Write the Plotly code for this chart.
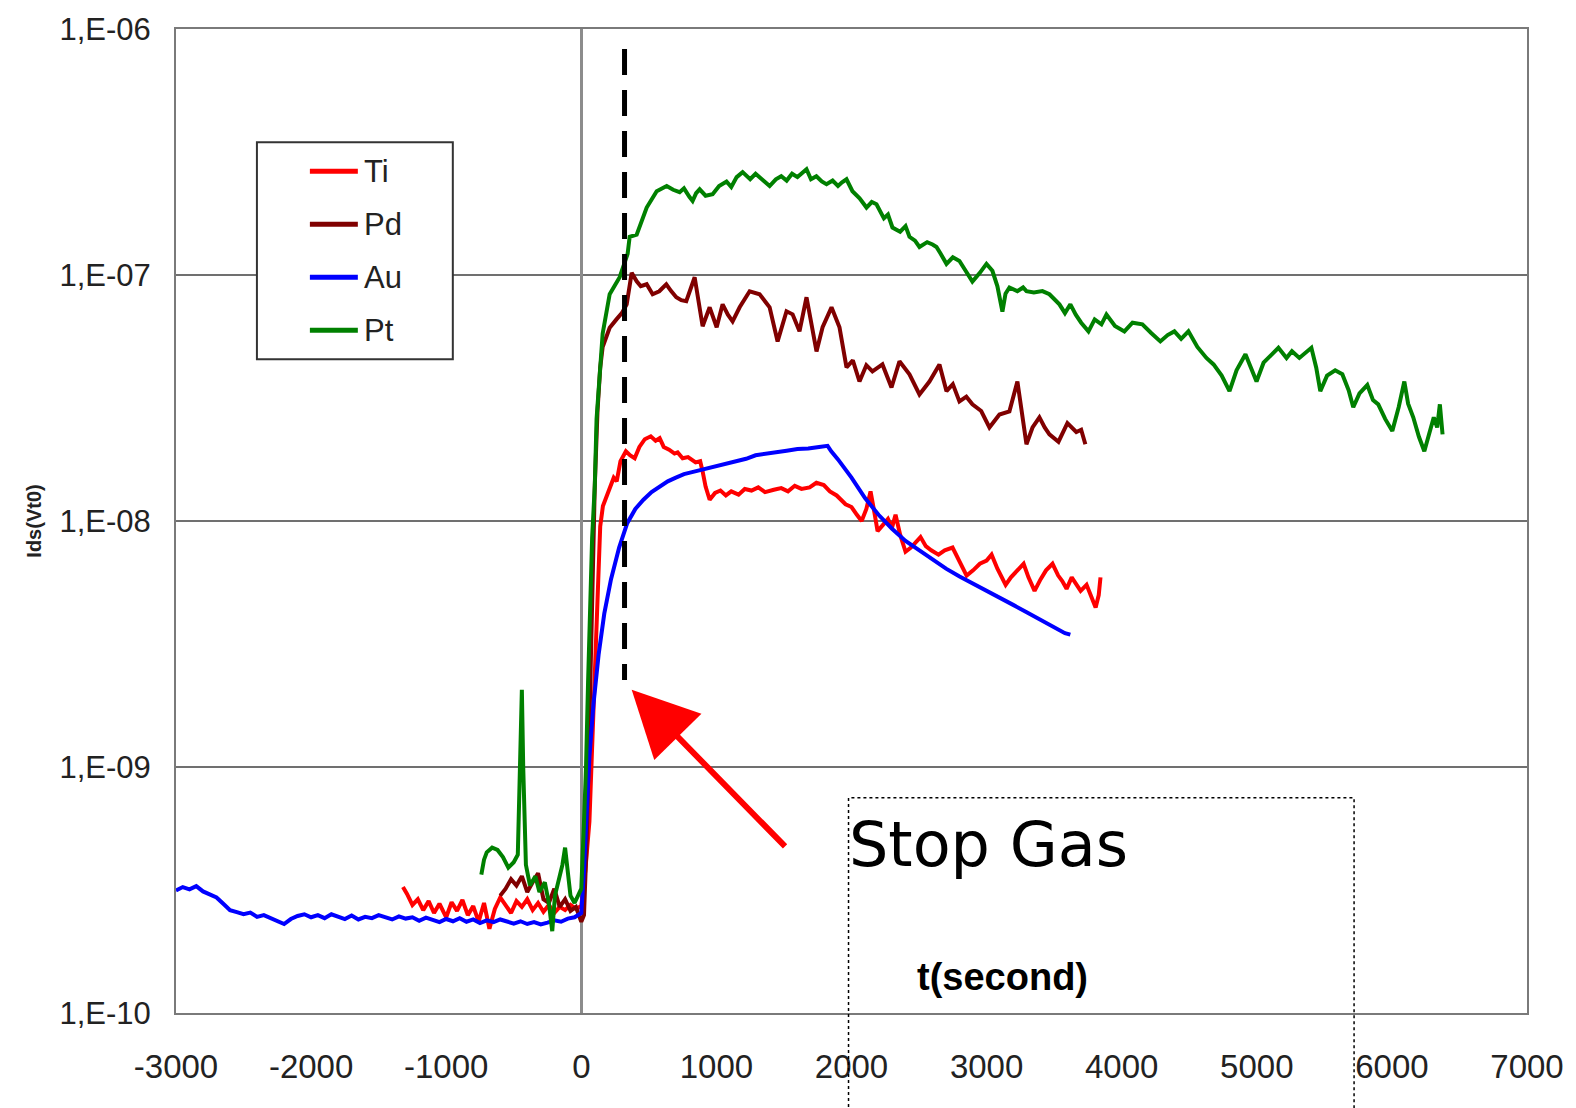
import plotly.graph_objects as go

# ---- measured drain current Ids(Vt0) versus time, one list of (t, Ids) per gate metal ----
ti_points = [
    (-1320, 3.25e-10), (-1290, 3.05e-10), (-1250, 2.75e-10), (-1210, 2.90e-10), (-1170, 2.62e-10),
    (-1130, 2.85e-10), (-1090, 2.55e-10), (-1050, 2.78e-10), (-1000, 2.45e-10), (-960, 2.82e-10),
    (-920, 2.60e-10), (-880, 2.88e-10), (-840, 2.50e-10), (-800, 2.72e-10), (-760, 2.35e-10),
    (-720, 2.80e-10), (-680, 2.20e-10), (-640, 2.65e-10), (-600, 2.95e-10), (-560, 2.75e-10),
    (-520, 2.55e-10), (-480, 2.85e-10), (-440, 2.70e-10), (-400, 2.90e-10), (-360, 2.62e-10),
    (-320, 2.80e-10), (-280, 2.58e-10), (-240, 2.75e-10), (-200, 2.55e-10), (-160, 2.70e-10),
    (-120, 2.62e-10), (-80, 2.75e-10), (-40, 2.65e-10), (0, 2.72e-10), (30, 3.8e-10),
    (60, 6.0e-10), (80, 1.2e-9), (100, 2.5e-9), (120, 5.0e-9), (140, 9.5e-9),
    (160, 1.15e-8), (200, 1.30e-8), (240, 1.50e-8), (262, 1.45e-8), (290, 1.75e-8),
    (330, 1.92e-8), (360, 1.85e-8), (395, 1.80e-8), (430, 2.00e-8), (470, 2.15e-8),
    (514, 2.21e-8), (550, 2.12e-8), (580, 2.17e-8), (610, 2.00e-8), (650, 1.95e-8),
    (690, 1.88e-8), (713, 1.90e-8), (750, 1.80e-8), (790, 1.82e-8), (846, 1.73e-8),
    (880, 1.75e-8), (898, 1.59e-8), (920, 1.38e-8), (950, 1.22e-8), (990, 1.30e-8),
    (1030, 1.33e-8), (1070, 1.27e-8), (1110, 1.32e-8), (1164, 1.28e-8), (1210, 1.35e-8),
    (1260, 1.33e-8), (1310, 1.37e-8), (1360, 1.31e-8), (1425, 1.34e-8), (1480, 1.36e-8),
    (1530, 1.32e-8), (1580, 1.39e-8), (1630, 1.35e-8), (1690, 1.37e-8), (1740, 1.43e-8),
    (1795, 1.40e-8), (1840, 1.32e-8), (1890, 1.27e-8), (1956, 1.17e-8), (2000, 1.14e-8),
    (2040, 1.06e-8), (2075, 1.00e-8), (2110, 1.12e-8), (2141, 1.32e-8), (2170, 1.08e-8),
    (2193, 9.1e-9), (2230, 9.6e-9), (2270, 1.02e-8), (2300, 9.4e-9), (2326, 1.06e-8),
    (2360, 8.8e-9), (2400, 7.5e-9), (2440, 7.8e-9), (2480, 8.2e-9), (2511, 8.6e-9),
    (2550, 7.9e-9), (2590, 7.6e-9), (2644, 7.3e-9), (2690, 7.6e-9), (2748, 7.8e-9),
    (2790, 7.0e-9), (2820, 6.5e-9), (2852, 6.0e-9), (2900, 6.3e-9), (2950, 6.7e-9),
    (3000, 6.9e-9), (3037, 7.3e-9), (3080, 6.4e-9), (3110, 5.9e-9), (3141, 5.5e-9),
    (3180, 5.9e-9), (3220, 6.2e-9), (3274, 6.7e-9), (3310, 5.9e-9), (3355, 5.2e-9),
    (3400, 5.8e-9), (3440, 6.3e-9), (3488, 6.7e-9), (3530, 6.0e-9), (3560, 5.7e-9),
    (3592, 5.3e-9), (3630, 5.9e-9), (3660, 5.6e-9), (3696, 5.2e-9), (3740, 5.5e-9),
    (3770, 5.0e-9), (3807, 4.45e-9), (3830, 5.0e-9), (3843, 5.9e-9),
]

pd_points = [
    (-600, 3.0e-10), (-560, 3.2e-10), (-520, 3.5e-10), (-480, 3.3e-10), (-440, 3.6e-10),
    (-400, 3.1e-10), (-360, 3.4e-10), (-320, 3.7e-10), (-280, 2.9e-10), (-240, 2.8e-10),
    (-200, 3.2e-10), (-160, 2.7e-10), (-120, 2.9e-10), (-80, 2.6e-10), (-40, 2.7e-10),
    (0, 2.35e-10), (20, 2.5e-10), (40, 5.0e-10), (60, 1.5e-9), (80, 5.0e-9),
    (100, 1.4e-8), (120, 2.8e-8), (140, 4.2e-8), (158, 5.1e-8), (210, 6.1e-8),
    (260, 6.6e-8), (300, 7.0e-8), (336, 7.6e-8), (360, 9.2e-8), (373, 1.02e-7),
    (410, 9.43e-8), (440, 9.0e-8), (484, 9.17e-8), (528, 8.35e-8), (577, 8.59e-8),
    (629, 9.17e-8), (665, 8.6e-8), (703, 8.12e-8), (740, 7.9e-8), (777, 7.82e-8),
    (839, 9.79e-8), (861, 8.35e-8), (898, 6.19e-8), (950, 7.39e-8), (1002, 6.13e-8),
    (1046, 7.60e-8), (1085, 6.9e-8), (1120, 6.48e-8), (1172, 7.39e-8), (1246, 8.59e-8),
    (1320, 8.35e-8), (1394, 7.39e-8), (1453, 5.37e-8), (1519, 7.12e-8), (1564, 6.92e-8),
    (1615, 5.90e-8), (1667, 8.12e-8), (1741, 4.89e-8), (1786, 6.13e-8), (1852, 7.39e-8),
    (1911, 6.13e-8), (1963, 4.21e-8), (2010, 4.5e-8), (2059, 3.69e-8), (2110, 4.3e-8),
    (2155, 4.06e-8), (2229, 4.33e-8), (2296, 3.49e-8), (2355, 4.46e-8), (2429, 3.95e-8),
    (2503, 3.27e-8), (2577, 3.69e-8), (2651, 4.33e-8), (2703, 3.37e-8), (2750, 3.6e-8),
    (2799, 3.06e-8), (2850, 3.2e-8), (2895, 2.98e-8), (2960, 2.8e-8), (3021, 2.40e-8),
    (3095, 2.71e-8), (3169, 2.79e-8), (3228, 3.69e-8), (3295, 2.05e-8), (3340, 2.4e-8),
    (3391, 2.64e-8), (3430, 2.4e-8), (3465, 2.25e-8), (3532, 2.1e-8), (3598, 2.5e-8),
    (3664, 2.3e-8), (3700, 2.35e-8), (3731, 2.05e-8),
]

au_points = [
    (-3000, 3.15e-10), (-2950, 3.25e-10), (-2900, 3.18e-10), (-2850, 3.28e-10), (-2800, 3.12e-10),
    (-2750, 3.02e-10), (-2700, 2.95e-10), (-2650, 2.78e-10), (-2600, 2.62e-10), (-2550, 2.57e-10),
    (-2500, 2.52e-10), (-2450, 2.56e-10), (-2400, 2.46e-10), (-2350, 2.50e-10), (-2300, 2.43e-10),
    (-2250, 2.37e-10), (-2200, 2.30e-10), (-2150, 2.41e-10), (-2100, 2.48e-10), (-2050, 2.52e-10),
    (-2000, 2.45e-10), (-1950, 2.50e-10), (-1900, 2.43e-10), (-1850, 2.52e-10), (-1800, 2.47e-10),
    (-1750, 2.41e-10), (-1700, 2.49e-10), (-1650, 2.40e-10), (-1600, 2.46e-10), (-1550, 2.43e-10),
    (-1500, 2.50e-10), (-1450, 2.44e-10), (-1400, 2.40e-10), (-1350, 2.47e-10), (-1300, 2.42e-10),
    (-1250, 2.45e-10), (-1200, 2.37e-10), (-1150, 2.44e-10), (-1100, 2.40e-10), (-1050, 2.34e-10),
    (-1000, 2.41e-10), (-950, 2.36e-10), (-900, 2.43e-10), (-850, 2.35e-10), (-800, 2.40e-10),
    (-750, 2.32e-10), (-700, 2.38e-10), (-650, 2.34e-10), (-600, 2.40e-10), (-550, 2.36e-10),
    (-500, 2.31e-10), (-450, 2.36e-10), (-400, 2.30e-10), (-350, 2.34e-10), (-300, 2.29e-10),
    (-250, 2.33e-10), (-200, 2.38e-10), (-150, 2.35e-10), (-100, 2.42e-10), (-50, 2.45e-10),
    (0, 2.55e-10), (20, 3.8e-10), (40, 6.5e-10), (60, 1.1e-9), (90, 1.8e-9),
    (128, 2.86e-9), (170, 4.2e-9), (220, 5.8e-9), (280, 7.8e-9), (340, 9.8e-9),
    (400, 1.12e-8), (460, 1.22e-8), (520, 1.31e-8), (580, 1.38e-8), (640, 1.45e-8),
    (700, 1.50e-8), (760, 1.55e-8), (820, 1.58e-8), (900, 1.62e-8), (980, 1.66e-8),
    (1060, 1.69e-8), (1140, 1.74e-8), (1220, 1.79e-8), (1290, 1.85e-8), (1360, 1.87e-8),
    (1440, 1.90e-8), (1520, 1.93e-8), (1600, 1.96e-8), (1680, 1.97e-8), (1760, 2.00e-8),
    (1823, 2.02e-8), (1850, 1.92e-8), (1900, 1.78e-8), (2000, 1.50e-8), (2100, 1.24e-8),
    (2200, 1.06e-8), (2300, 9.3e-9), (2400, 8.3e-9), (2500, 7.6e-9), (2600, 7.0e-9),
    (2700, 6.4e-9), (2800, 5.95e-9), (2900, 5.55e-9), (3000, 5.2e-9), (3100, 4.85e-9),
    (3200, 4.55e-9), (3300, 4.25e-9), (3400, 3.98e-9), (3500, 3.72e-9), (3580, 3.50e-9),
    (3620, 3.45e-9),
]

pt_points = [
    (-740, 3.65e-10), (-720, 4.2e-10), (-700, 4.5e-10), (-660, 4.7e-10), (-620, 4.6e-10),
    (-580, 4.3e-10), (-540, 3.9e-10), (-500, 4.1e-10), (-470, 4.4e-10), (-450, 1.2e-9),
    (-440, 2.06e-9), (-430, 1.0e-9), (-410, 4.0e-10), (-380, 3.3e-10), (-340, 3.6e-10),
    (-310, 3.1e-10), (-270, 3.4e-10), (-240, 2.8e-10), (-215, 2.15e-10), (-195, 3.0e-10),
    (-170, 3.4e-10), (-140, 4.0e-10), (-120, 4.7e-10), (-100, 3.6e-10), (-80, 3.0e-10),
    (-50, 2.8e-10), (-20, 3.0e-10), (0, 3.2e-10), (20, 6.0e-10), (35, 1.0e-9),
    (50, 2.2e-9), (65, 4.5e-9), (80, 8.5e-9), (100, 1.4e-8), (113, 2.6e-8),
    (158, 5.77e-8), (210, 8.35e-8), (284, 9.8e-8), (343, 1.22e-7), (358, 1.43e-7),
    (410, 1.46e-7), (484, 1.88e-7), (558, 2.19e-7), (632, 2.30e-7), (680, 2.22e-7),
    (728, 2.17e-7), (760, 2.25e-7), (800, 2.08e-7), (824, 2.00e-7), (850, 2.15e-7),
    (876, 2.23e-7), (920, 2.10e-7), (972, 2.13e-7), (1020, 2.30e-7), (1075, 2.40e-7),
    (1110, 2.28e-7), (1150, 2.50e-7), (1194, 2.62e-7), (1250, 2.45e-7), (1290, 2.58e-7),
    (1320, 2.50e-7), (1360, 2.38e-7), (1394, 2.30e-7), (1440, 2.45e-7), (1480, 2.52e-7),
    (1520, 2.42e-7), (1560, 2.58e-7), (1600, 2.50e-7), (1640, 2.60e-7), (1667, 2.69e-7),
    (1700, 2.45e-7), (1740, 2.52e-7), (1780, 2.40e-7), (1815, 2.34e-7), (1860, 2.42e-7),
    (1900, 2.30e-7), (1930, 2.38e-7), (1963, 2.45e-7), (2007, 2.19e-7), (2060, 2.05e-7),
    (2111, 1.88e-7), (2150, 1.98e-7), (2185, 1.94e-7), (2240, 1.70e-7), (2270, 1.76e-7),
    (2303, 1.56e-7), (2360, 1.50e-7), (2400, 1.58e-7), (2429, 1.43e-7), (2470, 1.38e-7),
    (2503, 1.30e-7), (2560, 1.36e-7), (2600, 1.33e-7), (2629, 1.30e-7), (2660, 1.22e-7),
    (2703, 1.11e-7), (2750, 1.18e-7), (2799, 1.14e-7), (2840, 1.05e-7), (2895, 9.4e-8),
    (2950, 1.02e-7), (2999, 1.11e-7), (3043, 1.04e-7), (3080, 9.0e-8), (3117, 7.1e-8),
    (3140, 8.4e-8), (3169, 8.9e-8), (3228, 8.6e-8), (3270, 8.9e-8), (3295, 8.6e-8),
    (3350, 8.5e-8), (3413, 8.6e-8), (3465, 8.35e-8), (3500, 8.0e-8), (3539, 7.6e-8),
    (3580, 7.0e-8), (3620, 7.6e-8), (3660, 6.9e-8), (3700, 6.4e-8), (3754, 5.9e-8),
    (3800, 6.6e-8), (3850, 6.3e-8), (3887, 6.9e-8), (3950, 6.2e-8), (4020, 5.9e-8),
    (4080, 6.4e-8), (4153, 6.3e-8), (4220, 5.8e-8), (4286, 5.37e-8), (4340, 5.7e-8),
    (4390, 5.9e-8), (4440, 5.5e-8), (4494, 5.9e-8), (4560, 5.1e-8), (4600, 4.8e-8),
    (4627, 4.6e-8), (4680, 4.33e-8), (4740, 3.9e-8), (4798, 3.37e-8), (4850, 4.1e-8),
    (4916, 4.76e-8), (4960, 4.2e-8), (4998, 3.69e-8), (5050, 4.4e-8), (5100, 4.7e-8),
    (5160, 5.06e-8), (5220, 4.6e-8), (5260, 4.9e-8), (5315, 4.6e-8), (5360, 4.8e-8),
    (5404, 5.06e-8), (5440, 4.2e-8), (5470, 3.37e-8), (5520, 3.9e-8), (5580, 4.1e-8),
    (5633, 3.95e-8), (5680, 3.4e-8), (5714, 2.9e-8), (5760, 3.3e-8), (5818, 3.57e-8),
    (5860, 3.1e-8), (5899, 2.98e-8), (5950, 2.6e-8), (6003, 2.32e-8), (6050, 2.9e-8),
    (6092, 3.69e-8), (6120, 3.0e-8), (6158, 2.64e-8), (6200, 2.2e-8), (6240, 1.92e-8),
    (6280, 2.3e-8), (6310, 2.64e-8), (6335, 2.4e-8), (6355, 2.98e-8), (6375, 2.25e-8),
]

series_names = ["Ti", "Pd", "Au", "Pt"]
series_colors = ["#ff0000", "#800000", "#0000ff", "#008000"]
series_points = [ti_points, pd_points, au_points, pt_points]

# instant at which the gas flow was stopped, and the current span the marker covers
stop_time = 320
stop_marker_span = [8.3e-7, 2.26e-9]

x_ticks = [-3000, -2000, -1000, 0, 1000, 2000, 3000, 4000, 5000, 6000, 7000]
x_tick_text = ["-3000", "-2000", "-1000", "0", "1000", "2000", "3000", "4000", "5000", "6000", "7000"]
y_ticks = [1e-10, 1e-9, 1e-8, 1e-7, 1e-6]
y_tick_text = ["1,E-10", "1,E-09", "1,E-08", "1,E-07", "1,E-06"]

TICK_FONT = "Liberation Sans, Arial, sans-serif"

fig = go.Figure()

for name, color, pts in zip(series_names, series_colors, series_points):
    fig.add_trace(go.Scatter(
        x=[p[0] for p in pts], y=[p[1] for p in pts],
        mode="lines", name=name,
        line=dict(color=color, width=4),
        showlegend=False,
    ))

# dashed marker at the gas stop time
fig.add_trace(go.Scatter(
    x=[stop_time, stop_time], y=stop_marker_span,
    mode="lines", line=dict(color="black", width=5, dash="26px,15px"),
    showlegend=False, hoverinfo="skip",
))

# boxed legend in the upper left of the plot
lg_x0, lg_x1, lg_y0, lg_y1 = 0.0599, 0.2049, 0.6643, 0.885
sample_x0, sample_x1, label_x = 0.0991, 0.1346, 0.1376
row_y = [0.8555, 0.8016, 0.7477, 0.6938]
shapes = [dict(type="rect", xref="paper", yref="paper", x0=lg_x0, x1=lg_x1, y0=lg_y0, y1=lg_y1,
               line=dict(color="#333333", width=2), fillcolor="white", layer="above")]
annotations = []
for name, color, yy in zip(series_names, series_colors, row_y):
    shapes.append(dict(type="line", xref="paper", yref="paper", x0=sample_x0, x1=sample_x1,
                       y0=yy, y1=yy, line=dict(color=color, width=5), layer="above"))
    annotations.append(dict(xref="paper", yref="paper", x=label_x, y=yy, text=name,
                            showarrow=False, xanchor="left", yanchor="middle",
                            font=dict(family=TICK_FONT, size=31, color="#222222")))

# dotted frame around the "Stop Gas" note
shapes.append(dict(type="rect", xref="paper", yref="paper", x0=0.4978, x1=0.872, y0=-0.15, y1=0.2187,
                   line=dict(color="black", width=1.5, dash="dot"), fillcolor="rgba(0,0,0,0)", layer="above"))

annotations += [
    dict(xref="paper", yref="paper", x=0.497, y=0.1709, text="Stop Gas", showarrow=False,
         xanchor="left", yanchor="middle", font=dict(family="DejaVu Sans", size=62, color="black")),
    dict(xref="paper", yref="paper", x=0.6117, y=0.0366, text="t(second)", showarrow=False,
         xanchor="center", yanchor="middle",
         font=dict(family=TICK_FONT, size=38, color="black", weight="bold")),
    # red arrow pointing at the stop marker
    dict(xref="x", yref="y", x=373, y=-8.686, axref="x", ayref="y", ax=1519, ay=-9.329,
         text="", showarrow=True, arrowhead=2, arrowsize=2.2, arrowwidth=6, arrowcolor="#ff0000",
         standoff=0),
]

fig.update_layout(
    width=1576, height=1108,
    margin=dict(l=176, r=40, t=25, b=95, pad=0),
    paper_bgcolor="white", plot_bgcolor="white",
    showlegend=False,
    shapes=shapes, annotations=annotations,
    xaxis=dict(
        range=[-3000, 7000], tickvals=x_ticks, ticktext=x_tick_text,
        showgrid=False, zeroline=True, zerolinecolor="#8c8c8c", zerolinewidth=3,
        showline=True, mirror=True, linecolor="#7a7a7a", linewidth=2, ticks="",
        tickfont=dict(family=TICK_FONT, size=33, color="#222222"), ticklabelstandoff=23,
    ),
    yaxis=dict(
        type="log", range=[-10, -6], tickvals=y_ticks, ticktext=y_tick_text,
        showgrid=True, gridcolor="#707070", gridwidth=2, zeroline=False,
        showline=True, mirror=True, linecolor="#7a7a7a", linewidth=2, ticks="",
        tickfont=dict(family=TICK_FONT, size=31, color="#222222"), ticklabelstandoff=17,
        title=dict(text="Ids(Vt0)", standoff=12,
                   font=dict(family=TICK_FONT, size=20, color="#222222", weight="bold")),
    ),
)

fig.write_html("out.html")
